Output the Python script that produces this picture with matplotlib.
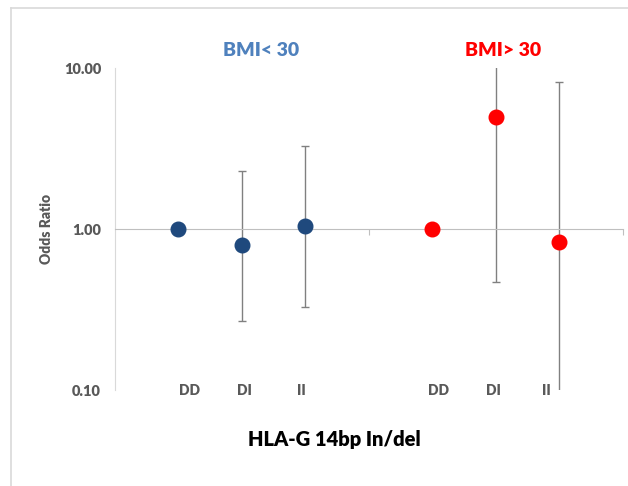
import matplotlib
matplotlib.use("Agg")
import matplotlib.pyplot as plt
from matplotlib.ticker import FixedLocator, FuncFormatter
from matplotlib.lines import Line2D

# data
genotypes = ["DD", "DI", "II"]
x_low = [1, 2, 3]          # BMI < 30
x_high = [5, 6, 7]         # BMI > 30
or_low = [1.00, 0.80, 1.04]
ci_low_lo = [1.00, 0.27, 0.33]
ci_low_hi = [1.00, 2.30, 3.30]
or_high = [1.00, 5.00, 0.83]
ci_high_lo = [1.00, 0.47, 0.08]
ci_high_hi = [1.00, 11.0, 8.20]
label_x = [1.18, 2.04, 2.94, 5.09, 5.96, 6.79]
label_text = genotypes + genotypes

plt.rcParams['font.family'] = ['Lato', 'DejaVu Sans']

fig = plt.figure(figsize=(6.28, 4.86), dpi=100)
ax = fig.add_axes([0.1831, 0.1975, 0.8089, 0.6625])

# frame around the chart (only top and left visible in the picture)
fig.add_artist(Line2D([0.017, 1.0], [0.984, 0.984], color="#D9D9D9", lw=1.2, transform=fig.transFigure))
fig.add_artist(Line2D([0.017, 0.017], [0.0, 0.984], color="#D9D9D9", lw=1.2, transform=fig.transFigure))

ax.set_yscale("log")
ax.set_ylim(0.1, 10)
ax.set_xlim(0, 8)

err_kw = dict(fmt="none", ecolor="#808080", elinewidth=1, capsize=3, capthick=1, zorder=2)


def yerr(vals, lo, hi):
    return [[v - l for v, l in zip(vals, lo)], [h - v for v, h in zip(vals, hi)]]


ax.errorbar(x_low, or_low, yerr=yerr(or_low, ci_low_lo, ci_low_hi), **err_kw)
ax.errorbar(x_high, or_high, yerr=yerr(or_high, ci_high_lo, ci_high_hi), **err_kw)
ax.plot(x_low, or_low, "o", color="#1F497D", ms=10.5, zorder=3, clip_on=False)
ax.plot(x_high, or_high, "o", color="#FF0000", ms=10.5, zorder=3, clip_on=False)

for s in ["top", "right"]:
    ax.spines[s].set_visible(False)
ax.spines["left"].set_color("#D9D9D9")
ax.spines["bottom"].set_color("#BFBFBF")
ax.spines["bottom"].set_position(("data", 1))

ax.xaxis.set_major_locator(FixedLocator([4, 8]))
ax.tick_params(axis="x", direction="out", length=4, color="#BFBFBF", labelbottom=False)
ax.yaxis.set_major_locator(FixedLocator([0.1, 1, 10]))
ax.yaxis.set_minor_locator(FixedLocator([]))
ax.yaxis.set_major_formatter(FuncFormatter(lambda v, p: "%.2f" % v))
ax.tick_params(axis="y", length=0, pad=10, labelsize=10.5, labelcolor="#595959")
for t in ax.get_yticklabels():
    t.set_fontweight("heavy")

for xl, tx in zip(label_x, label_text):
    ax.text(xl, 0.1, tx, ha="center", va="center", fontsize=10, fontweight="heavy",
            color="#595959", transform=ax.transData)

ax.set_ylabel("Odds Ratio", fontsize=10, fontweight="heavy", color="#595959", labelpad=8)
fig.text(0.533, 0.095, "HLA-G 14bp In/del", ha="center", va="center", fontsize=14.5, fontweight="heavy", color="black")
fig.text(0.416, 0.897, "BMI< 30", ha="center", va="center", fontsize=14, fontweight="heavy", color="#4F81BD")
fig.text(0.801, 0.897, "BMI> 30", ha="center", va="center", fontsize=14, fontweight="heavy", color="#FF0000")

fig.savefig("out.png", dpi=100)
